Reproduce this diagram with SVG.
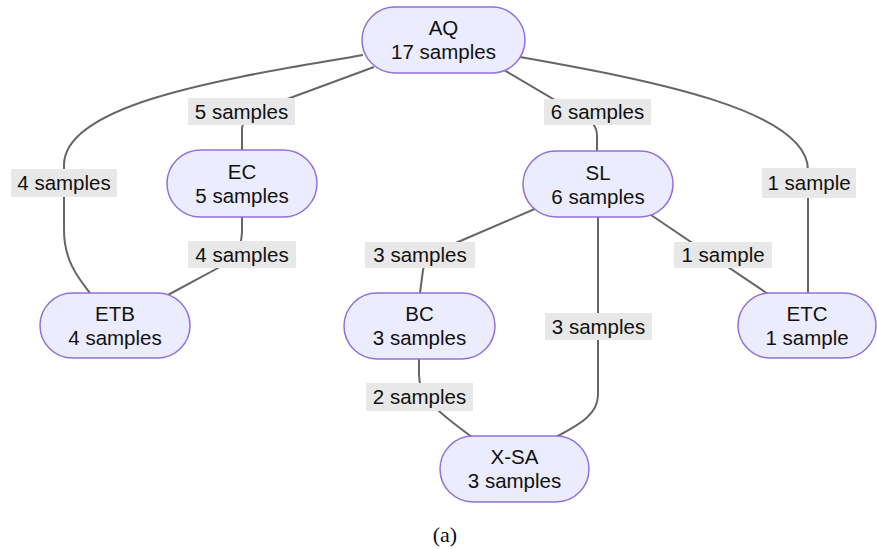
<svg xmlns="http://www.w3.org/2000/svg" width="877" height="549" viewBox="0 0 877 549">
<style>
.node rect{fill:#ECECFF;stroke:#9370DB;stroke-width:1.5}
.node text{font-family:"Liberation Sans",Arial,sans-serif;font-size:20.5px;fill:#111;text-anchor:middle}
.edges path{fill:none;stroke:#666;stroke-width:2}
.lbl rect{fill:#E8E8E8;stroke:none}
.lbl text{font-family:"Liberation Sans",Arial,sans-serif;font-size:20.5px;fill:#111;text-anchor:middle}
.cap{font-family:"Liberation Serif","Times New Roman",serif;font-size:22px;fill:#111;text-anchor:middle}
</style>
<rect width="877" height="549" fill="#fff"/>
<g class="edges" id="edges">
<path d="M363,55 C250,75 64,100 64,165 L64,230 C64,262 80,280 90,293"/>
<path d="M374,67 L290,98 C250,112 243,118 242,128 L242,150"/>
<path d="M242,217 L242,232 C241,250 236,258 218,268 L166,296"/>
<path d="M504,70 L555,100 C585,115 597,122 597,135 L597,151"/>
<path d="M520,57 C650,80 808,110 808,170 L808,293"/>
<path d="M537,208 L458,242 C435,252 425,258 423,270 L420,293"/>
<path d="M598,217 L598,395 C598,415 578,425 556,437"/>
<path d="M648,213 L771,296"/>
<path d="M419,359 L419,375 C419,395 432,408 472,437"/>
</g>
<g class="lbl" id="label-aq-etb"><rect x="11" y="169" width="106" height="28"/><text x="64" y="190">4 samples</text></g>
<g class="lbl" id="label-aq-ec"><rect x="188" y="98" width="107" height="27"/><text x="241.5" y="119">5 samples</text></g>
<g class="lbl" id="label-ec-etb"><rect x="188" y="241" width="108" height="27"/><text x="242" y="262">4 samples</text></g>
<g class="lbl" id="label-aq-sl"><rect x="544" y="99" width="107" height="26"/><text x="597.5" y="119">6 samples</text></g>
<g class="lbl" id="label-aq-etc"><rect x="762" y="168" width="94" height="30"/><text x="809" y="190">1 sample</text></g>
<g class="lbl" id="label-sl-etc"><rect x="674" y="242" width="98" height="26"/><text x="723" y="262">1 sample</text></g>
<g class="lbl" id="label-sl-xsa"><rect x="545" y="313" width="107" height="27"/><text x="598.5" y="334">3 samples</text></g>
<g class="lbl" id="label-sl-bc"><rect x="365" y="242" width="110" height="26"/><text x="420" y="262">3 samples</text></g>
<g class="lbl" id="label-bc-xsa"><rect x="366" y="383" width="107" height="28"/><text x="419.5" y="404">2 samples</text></g>
<g class="node" id="AQ"><rect x="362" y="7" width="163" height="66" rx="33"/><text x="443.5" y="35">AQ</text><text x="443.5" y="59">17 samples</text></g>
<g class="node" id="EC"><rect x="167" y="150" width="150" height="67" rx="33.5"/><text x="242" y="179">EC</text><text x="242" y="203">5 samples</text></g>
<g class="node" id="ETB"><rect x="40" y="293" width="150" height="65" rx="32.5"/><text x="115" y="321">ETB</text><text x="115" y="345">4 samples</text></g>
<g class="node" id="SL"><rect x="523" y="151" width="150" height="66" rx="33"/><text x="598" y="180">SL</text><text x="598" y="204">6 samples</text></g>
<g class="node" id="ETC"><rect x="738" y="293" width="138" height="65" rx="32.5"/><text x="807" y="321">ETC</text><text x="807" y="345">1 sample</text></g>
<g class="node" id="BC"><rect x="344" y="293" width="151" height="66" rx="33"/><text x="419.5" y="321">BC</text><text x="419.5" y="345">3 samples</text></g>
<g class="node" id="XSA"><rect x="440" y="436" width="149" height="66" rx="33"/><text x="514.5" y="464">X-SA</text><text x="514.5" y="488">3 samples</text></g>
<text class="cap" x="445" y="542">(a)</text>
</svg>
